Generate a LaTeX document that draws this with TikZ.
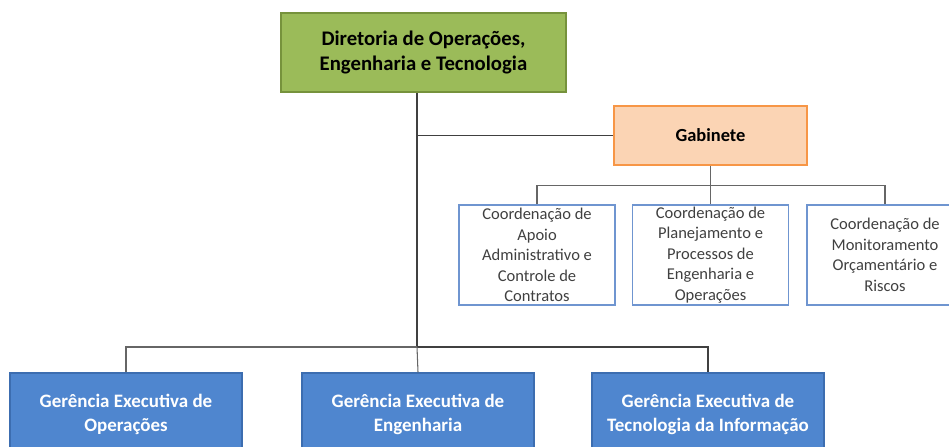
\documentclass[tikz,border=0pt]{standalone}
\usepackage{fontspec}
\setmainfont{Carlito}
\usepackage{tikz}
\usetikzlibrary{positioning,calc}

\definecolor{verde}{HTML}{9BBB59}
\definecolor{verdeborda}{HTML}{76923C}
\definecolor{pessego}{HTML}{FBD4B4}
\definecolor{laranja}{HTML}{F79646}
\definecolor{azul}{HTML}{4F86CF}
\definecolor{azulborda}{HTML}{3C6DB0}
\definecolor{azulclaro}{HTML}{6F95D0}
\definecolor{linha}{HTML}{404040}

\begin{document}
\begin{tikzpicture}[x=0.02cm,y=-0.02cm,
  diretoria/.style={draw=verdeborda,fill=verde,line width=1.2pt,minimum width=5.7cm,minimum height=1.58cm,
    align=center,font=\fontsize{11.8}{14.2}\selectfont\bfseries},
  gabinete/.style={draw=laranja,fill=pessego,line width=0.9pt,minimum width=3.86cm,minimum height=1.18cm,
    font=\fontsize{10.5}{12.6}\selectfont\bfseries},
  coord/.style={draw=azulclaro,fill=white,line width=0.8pt,minimum width=3.12cm,minimum height=2cm,
    inner ysep=0.5pt,align=center,text=black!75,font=\fontsize{9.4}{11.7}\selectfont},
  gerencia/.style={draw=azulborda,fill=azul,line width=0.8pt,minimum width=4.64cm,minimum height=1.64cm,
    align=center,text=white,font=\fontsize{10.8}{13.6}\selectfont\bfseries},
  conector/.style={draw=linha,line width=1pt},
  fino/.style={draw=linha!80,line width=0.6pt}]
\useasboundingbox (0,0) rectangle (949,446);

% topo
\node[diretoria] (dir) at (423.5,52.5) {Diretoria de Operações,\\Engenharia e Tecnologia};
\node[gabinete] (gab) at (710.5,135.5) {Gabinete};

% coordenacoes
\node[coord] (c1) at (537,255) {Coordenação de\\Apoio\\Administrativo e\\Controle de\\Contratos};
\node[coord] (c2) at (710.5,255) {Coordenação de\\Planejamento e\\Processos de\\Engenharia e\\Operações};
\node[coord] (c3) at (885,255) {Coordenação de\\Monitoramento\\Orçamentário e\\Riscos};

% gerencias
\node[gerencia] (g1) at (126,414) {Gerência Executiva de\\Operações};
\node[gerencia] (g2) at (418,414) {Gerência Executiva de\\Engenharia};
\node[gerencia] (g3) at (708,414) {Gerência Executiva de\\Tecnologia da Informação};

\coordinate (tronco) at (417,347);
\draw[conector] (tronco |- dir.south) -- (tronco);
\draw[conector] (tronco |- gab.west) -- (gab.west);
\draw[fino] (gab.south) -- ++(0,21);
\draw[fino] (c1.north) -- ++(0,-19) -| (c3.north);
\draw[fino] (c2.north) -- ++(0,-19);
\draw[fino] (g1.north) -- (g1.north |- tronco) -- (tronco);
\draw[conector] (tronco) -| (g3.north);
\draw[fino] (tronco) -- (g2.north);
\end{tikzpicture}
\end{document}
